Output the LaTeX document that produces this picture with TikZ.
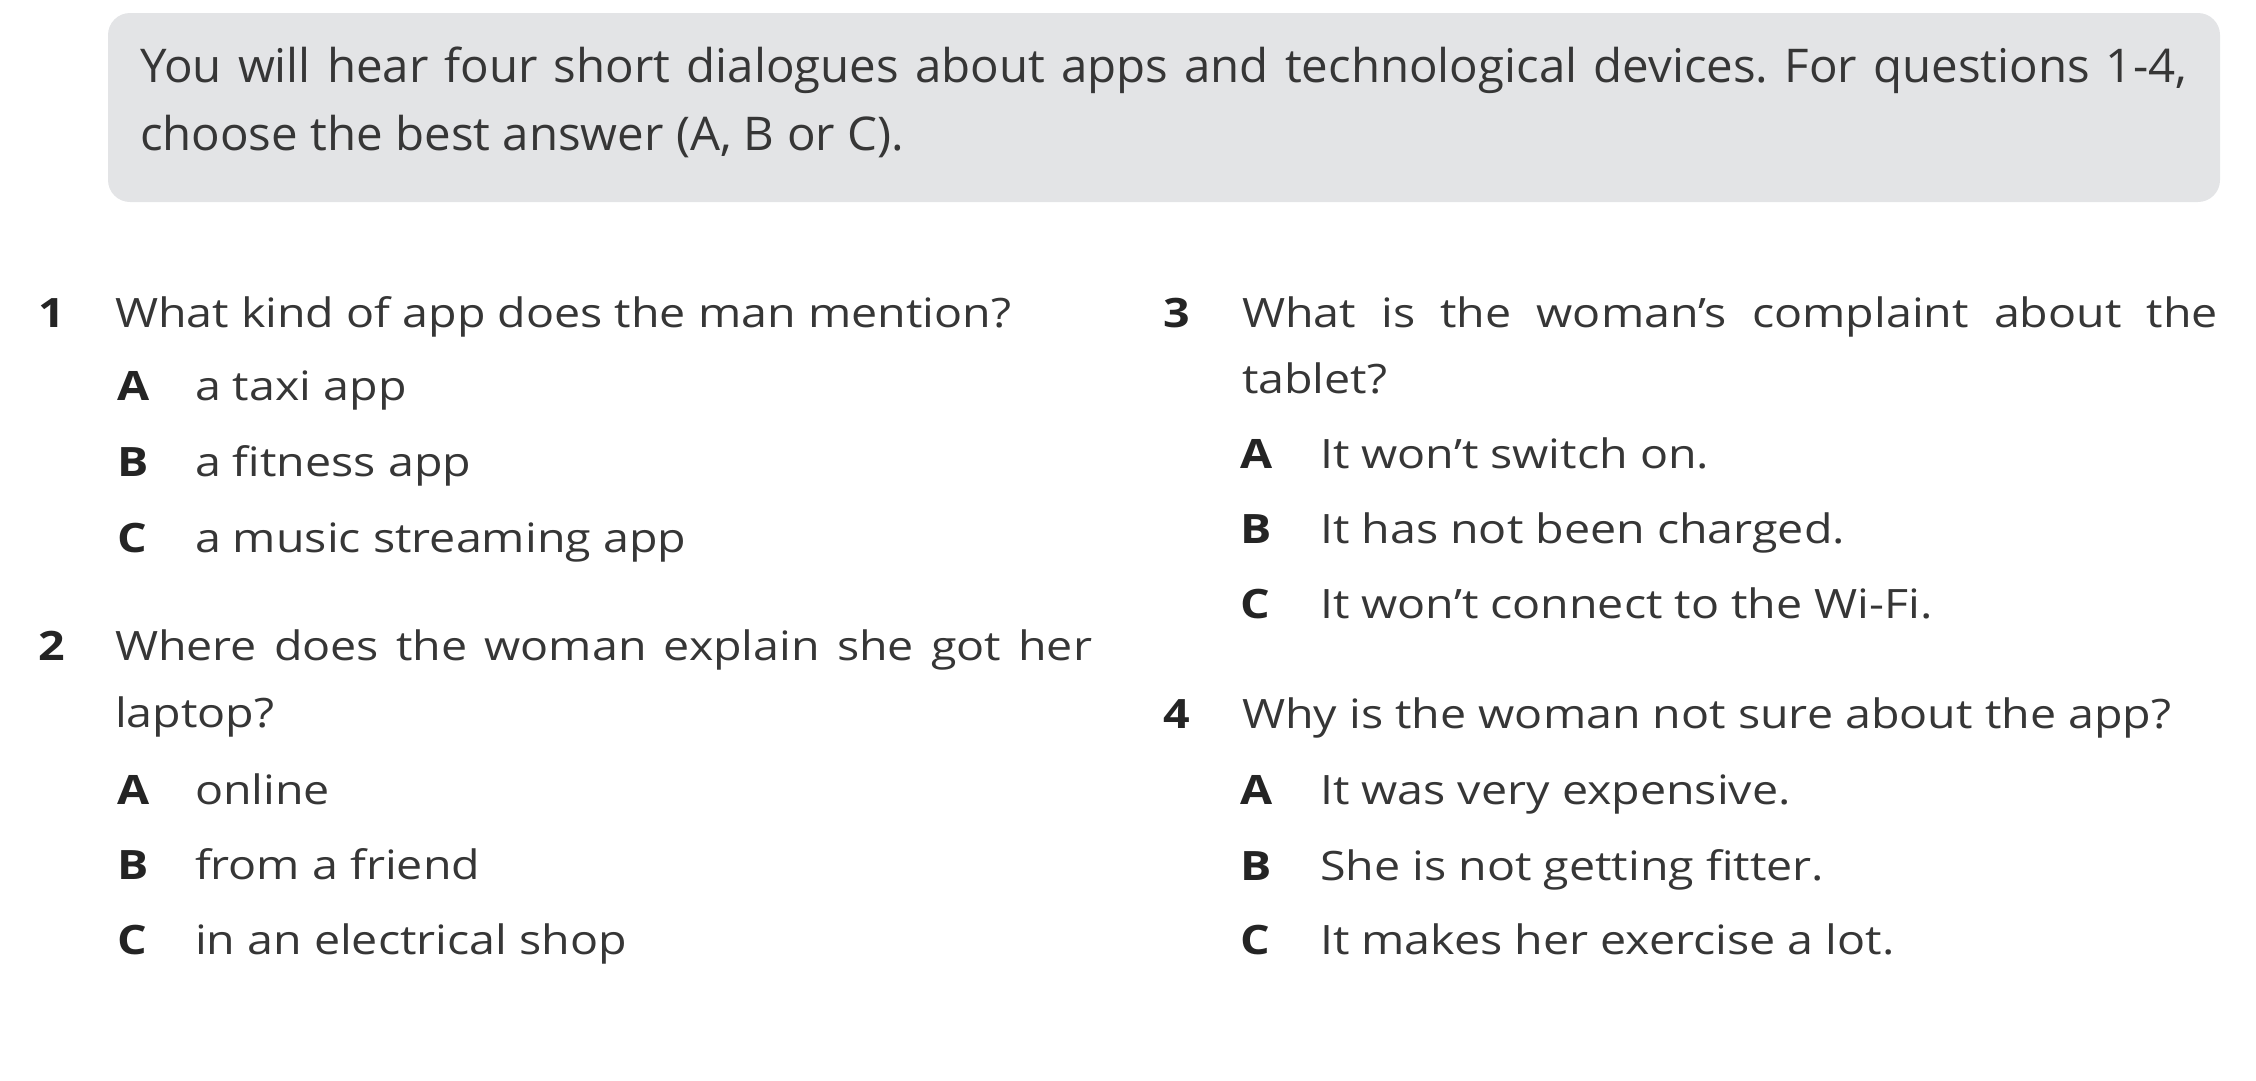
\documentclass[tikz,border=0pt]{standalone}
\usepackage{fontspec}
\setmainfont[FakeStretch=1.15]{Open Sans}
\newfontfamily\introfamily[FakeStretch=1.02]{Open Sans}
\definecolor{boxgray}{HTML}{E3E4E6}
\definecolor{txt}{HTML}{363636}
\definecolor{numc}{HTML}{242424}
\newcommand{\qfont}{\fontsize{40.5}{48}\selectfont}
\newcommand{\ifont}{\introfamily\fontsize{46.5}{54}\selectfont}
\frenchspacing
\begin{document}
\begin{tikzpicture}[x=1pt,y=-1pt,
  every node/.style={inner sep=0pt, outer sep=0pt, text=txt, font=\qfont},
  qtext/.style={anchor=base west},
  introtext/.style={anchor=base west, font=\ifont},
  qnum/.style={anchor=base east, font=\qfont\bfseries, text=numc},
  optletter/.style={anchor=base west, font=\qfont\bfseries, text=numc},
  opttext/.style={anchor=base west},
  introbox/.style={fill=boxgray, rounded corners=22pt, minimum width=2112pt, minimum height=189pt, anchor=north west}
]
\useasboundingbox (0,0) rectangle (2256,1080);
% instruction box
\node[introbox] (box) at (108,13) {};
\node[introtext] (intro1) at (140,82) {\makebox[2047pt][s]{You will hear four short dialogues about apps and technological devices. For questions 1-4,}};
\node[introtext] (intro2) at (140,150) {choose the best answer (A, B or C).};
% Question 1
\node[qnum] (n1) at (65,327) {1};
\node[qtext] (q1) at (115,327) {What kind of app does the man mention?};
\node[optletter] (q1A) at (117,400) {A};
\node[opttext] (q1At) at (195,400) {a taxi app};
\node[optletter] (q1B) at (117,476) {B};
\node[opttext] (q1Bt) at (195,476) {a fitness app};
\node[optletter] (q1C) at (117,552) {C};
\node[opttext] (q1Ct) at (195,552) {a music streaming app};
% Question 2
\node[qnum] (n2) at (65,660) {2};
\node[qtext] (q2a) at (115,660) {\makebox[977pt][s]{Where does the woman explain she got her}};
\node[qtext] (q2b) at (115,727) {laptop?};
\node[optletter] (q2A) at (117,804) {A};
\node[opttext] (q2At) at (195,804) {online};
\node[optletter] (q2B) at (117,879) {B};
\node[opttext] (q2Bt) at (195,879) {from a friend};
\node[optletter] (q2C) at (117,954) {C};
\node[opttext] (q2Ct) at (195,954) {in an electrical shop};
% Question 3
\node[qnum] (n3) at (1190,327) {3};
\node[qtext] (q3a) at (1242,327) {\makebox[976pt][s]{What is the woman’s complaint about the}};
\node[qtext] (q3b) at (1242,393) {tablet?};
\node[optletter] (q3A) at (1240,468) {A};
\node[opttext] (q3At) at (1320,468) {It won’t switch on.};
\node[optletter] (q3B) at (1240,543) {B};
\node[opttext] (q3Bt) at (1320,543) {It has not been charged.};
\node[optletter] (q3C) at (1240,618) {C};
\node[opttext] (q3Ct) at (1320,618) {It won’t connect to the Wi-Fi.};
% Question 4
\node[qnum] (n4) at (1190,728) {4};
\node[qtext] (q4) at (1242,728) {Why is the woman not sure about the app?};
\node[optletter] (q4A) at (1240,804) {A};
\node[opttext] (q4At) at (1320,804) {It was very expensive.};
\node[optletter] (q4B) at (1240,880) {B};
\node[opttext] (q4Bt) at (1320,880) {She is not getting fitter.};
\node[optletter] (q4C) at (1240,954) {C};
\node[opttext] (q4Ct) at (1320,954) {It makes her exercise a lot.};
\end{tikzpicture}
\end{document}
